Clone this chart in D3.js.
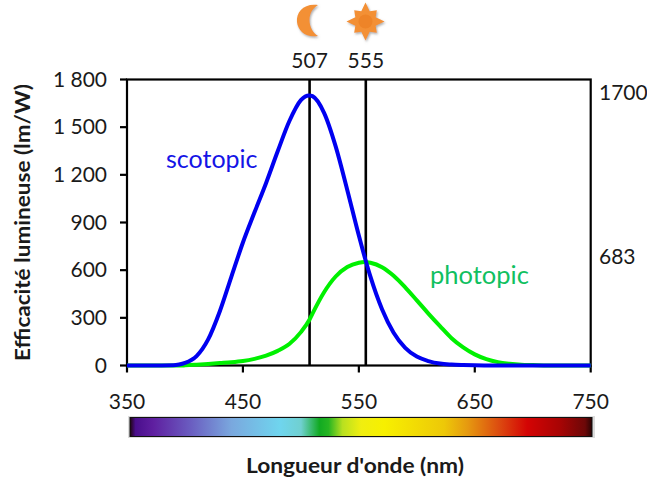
<!DOCTYPE html>
<html><head><meta charset="utf-8">
<script src="https://cdn.jsdelivr.net/npm/d3@7"></script>
<style>html,body{margin:0;padding:0;background:#fff}svg{display:block}text{font-family:"Lato",sans-serif;fill:#1a1a1a}</style>
</head><body><svg id="c" width="647" height="481"></svg>
<script>
const wavelengths=[350,380,390,395,400,410,420,430,440,450,460,470,480,490,500,507,510,520,530,540,550,555,560,570,580,590,600,610,620,630,640,650,660,670,680,690,700,720,750];
const scotopic=[0,0,1,6,16,59,164,340,558,774,964,1149,1348,1537,1670,1700,1695,1590,1379,1105,818,683,559,354,206,111,56,28,12,6,3,1,0,0,0,0,0,0,0];
const photopic=[0,0,0,0,1,5,10,15,20,28,42,62,92,135,210,283,327,461,560,620,647,652,647,619,565,492,410,327,248,172,114,70,40,21,11,5,3,0,0];
const xTicks=[350,450,550,650,750];
const yTicks=[0,300,600,900,1200,1500,1800];
const yLabels=["0","300","600","900","1 200","1 500","1 800"];
const markers=[507.5,556];
const markerLabels=["507","555"];
const rightLabels=[{v:1700,t:"1700"},{v:683,t:"683"}];
const specStops=[[0,"#20040f"],[.012,"#4a0e8c"],[.05,"#5f1fa0"],[.13,"#6a5cc0"],[.22,"#7aa8de"],[.325,"#6fd5ee"],[.37,"#70d0d0"],[.41,"#11aa22"],[.43,"#27b522"],[.46,"#b8e020"],[.5,"#f0ee10"],[.55,"#f7f000"],[.68,"#edc808"],[.73,"#e69a10"],[.8,"#dc4a10"],[.86,"#d40404"],[.93,"#a80404"],[.985,"#6c0808"],[1,"#2a0404"]];

const svg=d3.select("#c");
const x=d3.scaleLinear().domain([350,750]).range([127,590.7]);
const y=d3.scaleLinear().domain([0,1800]).range([365.5,79.5]);
const defs=svg.append("defs");
defs.append("filter").attr("id","sh").attr("x","-30%").attr("y","-30%").attr("width","170%").attr("height","170%")
 .append("feDropShadow").attr("dx",1).attr("dy",1.5).attr("stdDeviation",1).attr("flood-color","#777").attr("flood-opacity",.6);
const lg=defs.append("linearGradient").attr("id","spec");
specStops.forEach(s=>lg.append("stop").attr("offset",s[0]).attr("stop-color",s[1]));

// frame
const g=svg.append("g").attr("stroke","#000").attr("stroke-width",2.2).attr("fill","none");
g.append("rect").attr("x",x(350)).attr("y",y(1800)).attr("width",x(750)-x(350)).attr("height",y(0)-y(1800));
g.selectAll(".yt").data(yTicks).join("line").attr("x1",x(350)-7).attr("x2",x(350)).attr("y1",d=>y(d)).attr("y2",d=>y(d));
g.selectAll(".xt").data(xTicks).join("line").attr("x1",d=>x(d)).attr("x2",d=>x(d)).attr("y1",y(0)).attr("y2",y(0)+7);
g.selectAll(".m").data(markers).join("line").attr("x1",d=>x(d)).attr("x2",d=>x(d)).attr("y1",y(1800)).attr("y2",y(0)).attr("stroke-width",2.6);

// curves
const line=d3.line().x(d=>x(d[0])).y(d=>y(d[1])).curve(d3.curveMonotoneX);
svg.append("path").attr("d",line(wavelengths.map((w,i)=>[w,photopic[i]]))).attr("fill","none").attr("stroke","#00f000").attr("stroke-width",4);
svg.append("path").attr("d",line(wavelengths.map((w,i)=>[w,scotopic[i]]))).attr("fill","none").attr("stroke","#0000f0").attr("stroke-width",4);

// text
const fs=21;
svg.selectAll(".yl").data(yTicks).join("text").attr("x",x(350)-20).attr("y",d=>y(d)+7).attr("text-anchor","end").attr("font-size",fs).text((d,i)=>yLabels[i]);
svg.selectAll(".xl").data(xTicks).join("text").attr("x",d=>x(d)).attr("y",409).attr("text-anchor","middle").attr("font-size",fs).text(d=>d);
svg.selectAll(".ml").data(markers).join("text").attr("x",d=>x(d)).attr("y",68).attr("text-anchor","middle").attr("font-size",fs).text((d,i)=>markerLabels[i]);
svg.selectAll(".rl").data(rightLabels).join("text").attr("x",599).attr("y",d=>d.v===1700?100:264).attr("font-size",fs).text(d=>d.t);
svg.append("text").attr("x",166).attr("y",168).attr("font-size",25).style("fill","#1414e6").text("scotopic");
svg.append("text").attr("x",430).attr("y",284).attr("font-size",25.5).style("fill","#10c060").text("photopic");
svg.append("text").attr("x",246).attr("y",473).attr("font-size",21).attr("font-weight",700).attr("textLength",218).attr("lengthAdjust","spacingAndGlyphs").text("Longueur d'onde (nm)");
svg.append("text").attr("transform","translate(30,361) rotate(-90)").attr("font-size",21).attr("font-weight",700).attr("textLength",277).attr("lengthAdjust","spacingAndGlyphs").text("Efficacité lumineuse (lm/W)");

// spectrum bar
svg.append("rect").attr("x",128).attr("y",416).attr("width",467).attr("height",22).attr("fill","#ddd");
svg.append("rect").attr("x",130).attr("y",417.5).attr("width",462).attr("height",19).attr("fill","url(#spec)").attr("stroke","#111").attr("stroke-width",1);

// icons
const ic=svg.append("g").attr("fill","#f39035").attr("filter","url(#sh)");
ic.append("path").attr("d","M318,5 C304,3 296,12 297,22 C298,31 306,38 318,36 C313,33 309.5,27 309.5,20 C309.5,13 313,8 318,5 Z");
const spikes=[];
for(let i=0;i<16;i++){const a=i*Math.PI/8;const r=i%4===0?19:i%2===0?16:11;spikes.push([a,r]);}
ic.append("path").attr("transform","translate(365.5,21.5)").attr("d",d3.lineRadial().angle(d=>d[0]).radius(d=>d[1]).curve(d3.curveLinearClosed)(spikes));
svg.append("circle").attr("cx",365.5).attr("cy",21.5).attr("r",7).attr("fill","#ee8428");
</script></body></html>
